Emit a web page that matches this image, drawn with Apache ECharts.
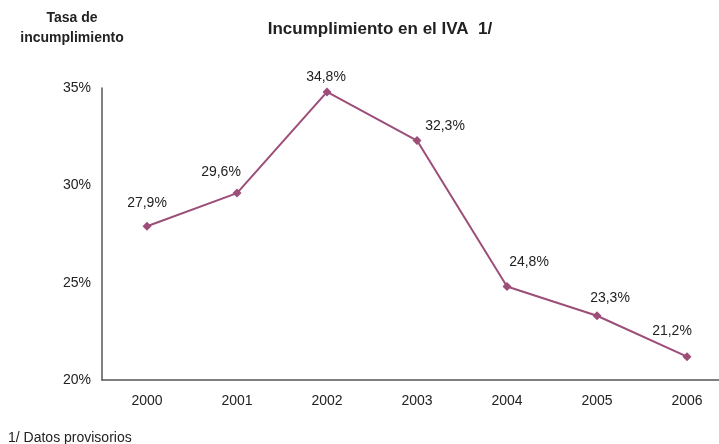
<!DOCTYPE html>
<html>
<head>
<meta charset="utf-8">
<script src="https://cdn.jsdelivr.net/npm/echarts@6/dist/echarts.min.js"></script>
<style>
  html, body { margin: 0; padding: 0; background: #fff; }
  #chart { width: 719px; height: 444px; }
</style>
</head>
<body>
<div id="chart"></div>
<script>
// Tasa de incumplimiento en el IVA, 2000-2006
const years = ['2000', '2001', '2002', '2003', '2004', '2005', '2006'];
const rates = [27.9, 29.6, 34.8, 32.3, 24.8, 23.3, 21.2];
const yTicks = [20, 25, 30, 35];

// label centre offsets from each point (px), keeps the value labels clear of the line
const labelOffsets = [[0, -23], [-16, -21], [-1, -15], [28, -14], [22, -24], [13, -18], [-15, -25]];

const fmt = v => v.toFixed(1).replace('.', ',') + '%';
const FONT = 'Liberation Sans, Arial, sans-serif';

const chart = echarts.init(document.getElementById('chart'), null, { renderer: 'canvas' });
chart.setOption({
  animation: false,
  backgroundColor: '#ffffff',
  textStyle: { fontFamily: FONT },
  title: [
    {
      text: 'Incumplimiento en el IVA  1/',
      left: 380, top: 21, padding: 0, textAlign: 'center',
      textStyle: { fontSize: 17, fontWeight: 'bold', color: '#222', fontFamily: FONT }
    },
    {
      text: 'Tasa de\nincumplimiento',
      left: 72, top: 8, padding: 0, textAlign: 'center',
      textStyle: { fontSize: 14, fontWeight: 'bold', color: '#222', lineHeight: 20, fontFamily: FONT }
    },
    {
      text: '1/ Datos provisorios',
      left: 8, top: 431, padding: 0,
      textStyle: { fontSize: 14, fontWeight: 'normal', color: '#222', fontFamily: FONT }
    }
  ],
  grid: { left: 102, top: 88, width: 630, height: 292, outerBoundsMode: 'none' },
  xAxis: {
    type: 'category',
    data: years,
    boundaryGap: true,
    axisLine: { lineStyle: { color: '#555', width: 1.5 } },
    axisTick: { show: false },
    axisLabel: { color: '#222', fontSize: 14, margin: 14 }
  },
  yAxis: {
    type: 'value',
    min: yTicks[0], max: yTicks[yTicks.length - 1], interval: 5,
    axisLine: { show: true, lineStyle: { color: '#555', width: 1.5 } },
    axisTick: { show: false },
    splitLine: { show: false },
    axisLabel: { color: '#222', fontSize: 14, margin: 11, formatter: v => v + '%' }
  },
  series: [{
    type: 'line',
    data: rates.map((v, i) => ({
      value: v,
      label: { offset: labelOffsets[i] }
    })),
    symbol: 'diamond',
    symbolSize: 9,
    lineStyle: { color: '#9C4D78', width: 2 },
    itemStyle: { color: '#9C4D78' },
    label: {
      show: true,
      position: 'inside',
      color: '#222',
      fontSize: 14,
      formatter: p => fmt(p.value)
    }
  }]
});
</script>
</body>
</html>
